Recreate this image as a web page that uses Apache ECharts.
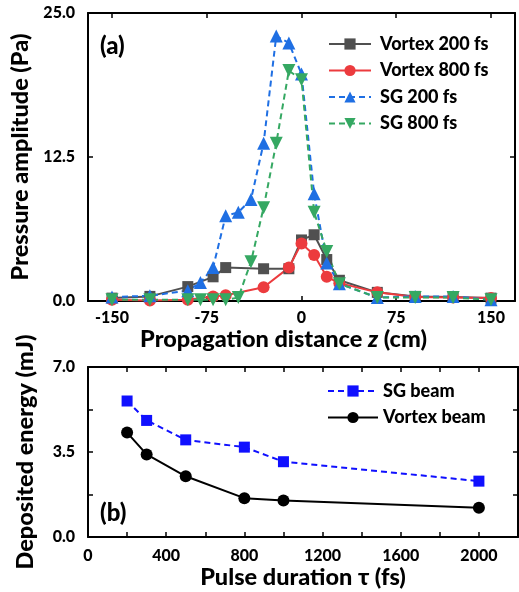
<!DOCTYPE html>
<html>
<head>
<meta charset="utf-8">
<script src="https://cdn.jsdelivr.net/npm/echarts@6/dist/echarts.min.js"></script>
<style>
  html, body { margin: 0; padding: 0; background: #fff; }
  #chart { width: 519px; height: 592px; }
</style>
</head>
<body>
<div id="chart"></div>
<script>
// (a) pressure amplitude along the propagation axis
const zVortex200 = [-150, -120, -90, -70, -60, -30, -10, 0, 10, 20, 30, 60, 90, 120, 150];
const pVortex200 = [0.25, 0.4, 1.25, 2.1, 2.9, 2.8, 2.8, 5.3, 5.75, 3.6, 1.8, 0.75, 0.4, 0.35, 0.25];
const zVortex800 = [-150, -120, -90, -70, -60, -30, -10, 0, 10, 20, 30, 60, 90, 120, 150];
const pVortex800 = [0.1, 0.05, 0.1, 0.4, 0.5, 1.2, 2.9, 5.0, 4.0, 2.1, 1.55, 0.75, 0.35, 0.3, 0.25];
const zSG200 = [-150, -120, -90, -80, -70, -60, -50, -40, -30, -20, -10, 0, 10, 20, 30, 60, 90, 120, 150];
const pSG200 = [0.35, 0.45, 0.9, 1.6, 2.9, 7.4, 7.7, 8.8, 13.7, 23.0, 22.4, 19.7, 9.3, 3.3, 1.5, 0.3, 0.4, 0.4, 0.1];
const zSG800 = [-150, -120, -90, -80, -70, -60, -50, -40, -30, -20, -10, 0, 10, 20, 30, 60, 90, 120, 150];
const pSG800 = [0.1, 0.1, 0.1, 0.1, 0.1, 0.1, 0.3, 3.4, 8.1, 13.7, 20.0, 19.2, 7.7, 4.3, 1.5, 0.3, 0.3, 0.3, 0.1];

// (b) deposited energy versus pulse duration
const tau = [200, 300, 500, 800, 1000, 2000];
const eSG = [5.6, 4.8, 4.0, 3.7, 3.1, 2.3];
const eVortex = [4.3, 3.4, 2.5, 1.6, 1.5, 1.2];

// tick labels
const zTicks = [-150, -75, 0, 75, 150];
const pTicks = [0, 12.5, 25];
const tauTicks = [0, 400, 800, 1200, 1600, 2000];
const tauMinorTicks = [0, 200, 400, 600, 800, 1000, 1200, 1400, 1600, 1800, 2000];
const eTicks = [0, 3.5, 7];
const eMinorTicks = [0, 1.75, 3.5, 5.25, 7];

const FONT = 'Lato';
const WEIGHT = 900;
const pair = (xs, ys) => xs.map((x, i) => [x, ys[i]]);

const axisLine = { show: true, onZero: false, lineStyle: { color: '#000', width: 2 } };
const labelStyle = { fontFamily: FONT, fontWeight: WEIGHT, fontSize: 16, color: '#000' };
const nameStyle = { fontFamily: FONT, fontWeight: WEIGHT, fontSize: 23.5, color: '#000' };
const tickStyle = { color: '#000', width: 1.5 };

function valueAxis(extra) {
  return Object.assign({
    type: 'value',
    axisLine: axisLine,
    splitLine: { show: false },
    axisTick: { show: true, inside: true, length: 5, lineStyle: tickStyle },
    axisLabel: Object.assign({ show: true }, labelStyle)
  }, extra);
}

const chart = echarts.init(document.getElementById('chart'));

const option = {
  animation: false,
  backgroundColor: '#fff',
  grid: [
    { left: 88, top: 13, right: 4, height: 288, outerBoundsMode: 'none', containLabel: false },
    { left: 88, top: 367, right: 1, height: 170, outerBoundsMode: 'none', containLabel: false }
  ],
  xAxis: [
    valueAxis({
      gridIndex: 0, min: -169, max: 169, position: 'bottom',
      axisTick: { show: true, inside: true, length: 5, customValues: zTicks, lineStyle: tickStyle },
      axisLabel: Object.assign({ customValues: zTicks, margin: 9, formatter: v => String(v) }, labelStyle),
      name: 'Propagation distance {i|z} (cm)',
      nameLocation: 'middle', nameGap: 26,
      nameTextStyle: Object.assign({ padding: [0, 36, 0, 0], rich: { i: { fontFamily: FONT, fontWeight: WEIGHT, fontStyle: 'italic', fontSize: 23.5 } } }, nameStyle)
    }),
    valueAxis({
      gridIndex: 0, min: -169, max: 169, position: 'top',
      axisTick: { show: true, inside: true, length: 5, customValues: zTicks, lineStyle: tickStyle },
      axisLabel: { show: false }
    }),
    valueAxis({
      gridIndex: 1, min: 0, max: 2200, position: 'bottom',
      axisTick: { show: true, inside: true, length: 5, customValues: tauMinorTicks, lineStyle: tickStyle },
      axisLabel: Object.assign({ customValues: tauTicks, margin: 11, formatter: v => String(v) }, labelStyle),
      name: 'Pulse duration \u03c4 (fs)',
      nameLocation: 'middle', nameGap: 28,
      nameTextStyle: nameStyle
    }),
    valueAxis({
      gridIndex: 1, min: 0, max: 2200, position: 'top',
      axisTick: { show: true, inside: true, length: 5, customValues: tauMinorTicks, lineStyle: tickStyle },
      axisLabel: { show: false }
    })
  ],
  yAxis: [
    valueAxis({
      gridIndex: 0, min: 0, max: 25, position: 'left',
      axisTick: { show: true, inside: true, length: 5, customValues: pTicks, lineStyle: tickStyle },
      axisLabel: Object.assign({ customValues: pTicks, margin: 13, formatter: v => v.toFixed(1) }, labelStyle),
      name: 'Pressure amplitude (Pa)',
      nameLocation: 'middle', nameGap: 51,
      nameTextStyle: nameStyle
    }),
    valueAxis({
      gridIndex: 0, min: 0, max: 25, position: 'right',
      axisTick: { show: true, inside: true, length: 5, customValues: pTicks, lineStyle: tickStyle },
      axisLabel: { show: false }
    }),
    valueAxis({
      gridIndex: 1, min: 0, max: 7, position: 'left',
      axisTick: { show: true, inside: true, length: 5, customValues: eMinorTicks, lineStyle: tickStyle },
      axisLabel: Object.assign({ customValues: eTicks, margin: 13, formatter: v => v.toFixed(1) }, labelStyle),
      name: 'Deposited energy (mJ)',
      nameLocation: 'middle', nameGap: 51,
      nameTextStyle: nameStyle
    }),
    valueAxis({
      gridIndex: 1, min: 0, max: 7, position: 'right',
      axisTick: { show: true, inside: true, length: 5, customValues: eMinorTicks, lineStyle: tickStyle },
      axisLabel: { show: false }
    })
  ],
  legend: [
    {
      data: ['Vortex 200 fs', 'Vortex 800 fs', 'SG 200 fs', 'SG 800 fs'],
      left: 328, top: 35, orient: 'vertical', padding: 0,
      itemWidth: 42, itemHeight: 14, itemGap: 8.5,
      textStyle: { fontFamily: FONT, fontWeight: WEIGHT, fontSize: 18, color: '#000', padding: [0, 0, 0, 4] }
    },
    {
      data: ['SG beam', 'Vortex beam'],
      left: 327, top: 382, orient: 'vertical', padding: 0,
      itemWidth: 50, itemHeight: 14, itemGap: 8.5,
      textStyle: { fontFamily: FONT, fontWeight: WEIGHT, fontSize: 18, color: '#000', padding: [0, 0, 0, 0] }
    }
  ],
  graphic: [
    { type: 'text', left: 100, top: 34, style: { text: '(a)', font: '900 24px Lato', fill: '#000' } },
    { type: 'text', left: 100, top: 501, style: { text: '(b)', font: '900 24px Lato', fill: '#000' } }
  ],
  series: [
    {
      name: 'Vortex 200 fs', type: 'line', xAxisIndex: 0, yAxisIndex: 0,
      data: pair(zVortex200, pVortex200),
      symbol: 'rect', symbolSize: 11,
      lineStyle: { color: '#505050', width: 2 },
      itemStyle: { color: '#505050' }
    },
    {
      name: 'Vortex 800 fs', type: 'line', xAxisIndex: 0, yAxisIndex: 0,
      data: pair(zVortex800, pVortex800),
      symbol: 'circle', symbolSize: 12,
      lineStyle: { color: '#ec3b3e', width: 2 },
      itemStyle: { color: '#ec3b3e' }
    },
    {
      name: 'SG 200 fs', type: 'line', xAxisIndex: 0, yAxisIndex: 0,
      data: pair(zSG200, pSG200),
      symbol: 'triangle', symbolSize: 13,
      lineStyle: { color: '#1f6fe3', width: 2, type: [6, 4] },
      itemStyle: { color: '#1f6fe3' }
    },
    {
      name: 'SG 800 fs', type: 'line', xAxisIndex: 0, yAxisIndex: 0,
      data: pair(zSG800, pSG800),
      symbol: 'triangle', symbolRotate: 180, symbolSize: 13,
      lineStyle: { color: '#35a862', width: 2, type: [6, 4] },
      itemStyle: { color: '#35a862' }
    },
    {
      name: 'SG beam', type: 'line', xAxisIndex: 2, yAxisIndex: 2,
      data: pair(tau, eSG),
      symbol: 'rect', symbolSize: 11,
      lineStyle: { color: '#1010ff', width: 2, type: [6, 4] },
      itemStyle: { color: '#1010ff' }
    },
    {
      name: 'Vortex beam', type: 'line', xAxisIndex: 2, yAxisIndex: 2,
      data: pair(tau, eVortex),
      symbol: 'circle', symbolSize: 12,
      lineStyle: { color: '#000', width: 2 },
      itemStyle: { color: '#000' }
    }
  ]
};

chart.setOption(option);
</script>
</body>
</html>
